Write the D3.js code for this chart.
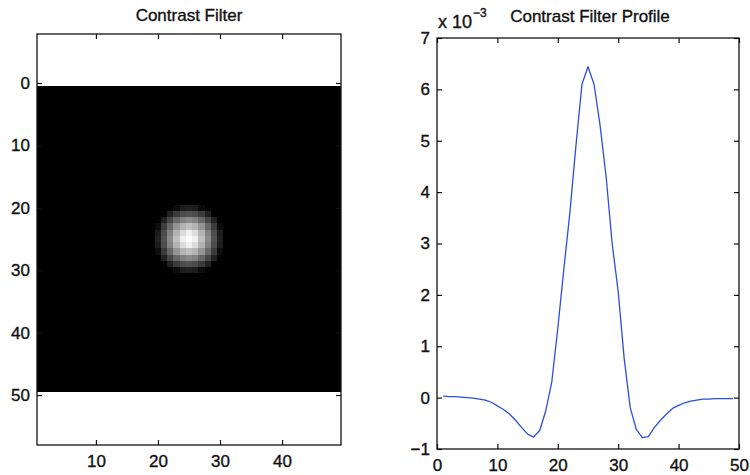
<!DOCTYPE html>
<html>
<head>
<meta charset="utf-8">
<script src="https://cdn.jsdelivr.net/npm/d3@7/dist/d3.min.js"></script>
<style>
  html, body { margin: 0; padding: 0; background: #fff; }
  svg { display: block; font-family: "Liberation Sans", Arial, Helvetica, sans-serif; }
  text { fill: #111; stroke: #111; stroke-width: 0.35; }
</style>
</head>
<body>
<svg id="fig" width="750" height="475"></svg>
<script>
// Sample positions of the filter profile (pixel index along the centre row)
const profileX = d3.range(1, 50);
// Filter profile values, in units of 1e-3
const profileY = [
  0.03, 0.02, 0.02, 0.01, 0.00, -0.01, -0.03, -0.05, -0.09, -0.16,
  -0.23, -0.32, -0.44, -0.58, -0.71, -0.77, -0.64, -0.26, 0.30, 1.35,
  2.50, 3.60, 4.90, 6.10, 6.44, 6.10, 5.30, 4.30, 3.00, 2.06,
  0.75, -0.20, -0.62, -0.78, -0.76, -0.58, -0.44, -0.32, -0.21, -0.15,
  -0.10, -0.07, -0.05, -0.03, -0.03, -0.02, -0.02, -0.02, -0.02
];
const imageSize = 49;          // filter kernel is imageSize x imageSize
const filterCentre = 25;       // index of the kernel centre
const imgXTicks = [10, 20, 30, 40];
const imgYTicks = [0, 10, 20, 30, 40, 50];
const profXTicks = [0, 10, 20, 30, 40, 50];
const profYTicks = [-1, 0, 1, 2, 3, 4, 5, 6, 7];
const titles = ["Contrast Filter", "Contrast Filter Profile"];

const svg = d3.select("#fig");
const FONT = 17;
const TICK = 5;

// ---------- left panel: kernel shown as a grey-scale image ----------
const L = { left: 37, right: 341, top: 34, bottom: 445 };
const lx = d3.scaleLinear().domain([0.5, imageSize + 0.5]).range([L.left, L.right]);
const ly = d3.scaleLinear().domain([-7.85, 58.0]).range([L.top, L.bottom]);

// radial kernel: each cell takes the profile value at its distance from the centre
const prof = d3.scaleLinear().domain(profileX).range(profileY).clamp(true);
const radial = r => (prof(filterCentre - r) + prof(filterCentre + r)) / 2;
const cells = [];
for (let i = 1; i <= imageSize; i++) {
  for (let j = 1; j <= imageSize; j++) {
    const r = Math.hypot(i - filterCentre, j - filterCentre);
    cells.push({ row: i, col: j, v: radial(r) });
  }
}
const vmax = d3.max(profileY);
// grey map: low values saturate to black
const grey = d3.scaleLinear().domain([1.0, vmax]).range([0, 255]).clamp(true);

const left = svg.append("g");
left.append("g").selectAll("rect").data(cells).join("rect")
  .attr("x", d => lx(d.col - 0.5))
  .attr("y", d => ly(d.row - 0.5))
  .attr("width", d => lx(d.col + 0.5) - lx(d.col - 0.5) + 0.4)
  .attr("height", d => ly(d.row + 0.5) - ly(d.row - 0.5) + 0.4)
  .attr("fill", d => { const g = Math.round(grey(d.v)); return `rgb(${g},${g},${g})`; })
  .attr("shape-rendering", "crispEdges");

function frame(g, xs, ys, box, xt, yt) {
  g.append("rect")
    .attr("x", box.left).attr("y", box.top)
    .attr("width", box.right - box.left).attr("height", box.bottom - box.top)
    .attr("fill", "none").attr("stroke", "#111").attr("stroke-width", 1.3);
  const axB = d3.axisBottom(xs).tickValues(xt).tickSize(-TICK).tickPadding(10).tickFormat(d3.format("d"));
  const axT = d3.axisTop(xs).tickValues(xt).tickSize(-TICK).tickFormat("");
  const axL = d3.axisLeft(ys).tickValues(yt).tickSize(-TICK).tickPadding(7).tickFormat(d3.format("d"));
  const axR = d3.axisRight(ys).tickValues(yt).tickSize(-TICK).tickFormat("");
  const style = a => {
    a.select(".domain").remove();
    a.selectAll("line").attr("stroke", "#111").attr("stroke-width", 1.2);
    a.selectAll("text").attr("font-size", FONT).attr("fill", "#111")
      .attr("font-family", "'Liberation Sans', Arial, sans-serif");
  };
  g.append("g").attr("transform", `translate(0,${box.bottom})`).call(axB).call(style);
  g.append("g").attr("transform", `translate(0,${box.top})`).call(axT).call(style);
  g.append("g").attr("transform", `translate(${box.left},0)`).call(axL).call(style);
  g.append("g").attr("transform", `translate(${box.right},0)`).call(axR).call(style);
}
frame(left, lx, ly, L, imgXTicks, imgYTicks);
left.append("text").attr("x", (L.left + L.right) / 2).attr("y", 21)
  .attr("text-anchor", "middle").attr("font-size", FONT).text(titles[0]);

// ---------- right panel: profile through the kernel centre ----------
const R = { left: 437, right: 739, top: 38, bottom: 449 };
const rx = d3.scaleLinear().domain([0, 50]).range([R.left, R.right]);
const ry = d3.scaleLinear().domain([-1, 7]).range([R.bottom, R.top]);

const right = svg.append("g");
right.append("path")
  .datum(profileX.map((x, i) => [x, profileY[i]]))
  .attr("fill", "none").attr("stroke", "#2a4ee0").attr("stroke-width", 1.3)
  .attr("stroke-linejoin", "round")
  .attr("d", d3.line().x(d => rx(d[0])).y(d => ry(d[1])));
frame(right, rx, ry, R, profXTicks, profYTicks);

right.append("text").attr("x", 590).attr("y", 22)
  .attr("text-anchor", "middle").attr("font-size", FONT).text(titles[1]);
const mult = right.append("text").attr("x", 438).attr("y", 28).attr("font-size", 18);
mult.append("tspan").text("x 10");
mult.append("tspan").attr("dy", -11).attr("dx", 1).attr("font-size", 12).text("\u22123");
</script>
</body>
</html>
